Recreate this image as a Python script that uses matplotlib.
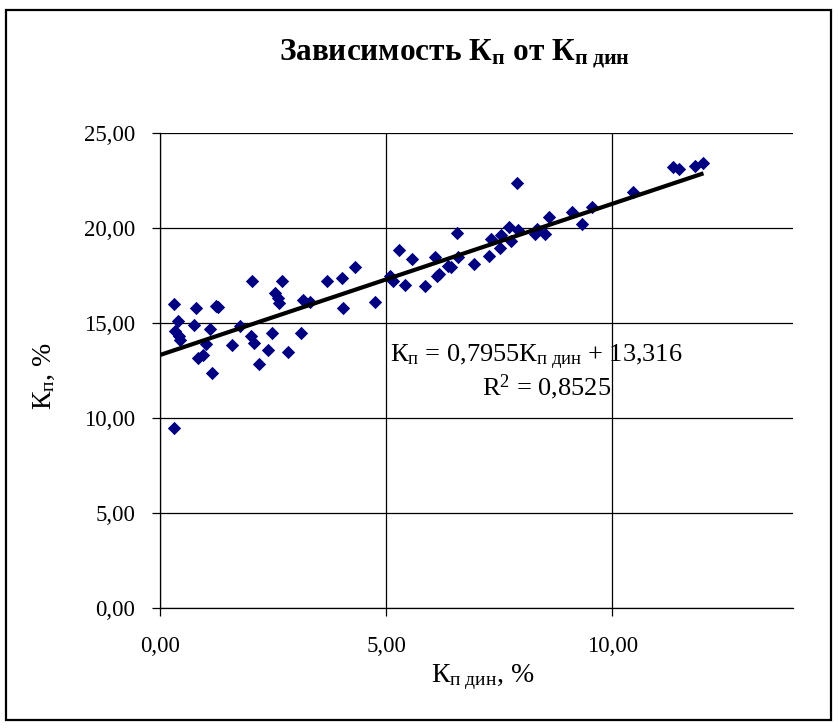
import numpy as np
import matplotlib
matplotlib.use("Agg")
import matplotlib.pyplot as plt
from matplotlib.patches import Rectangle
from matplotlib.ticker import FuncFormatter

plt.rcParams.update({
    "font.family": "Liberation Serif",
    "mathtext.fontset": "custom",
    "mathtext.rm": "Liberation Serif",
    "mathtext.it": "Liberation Serif:italic",
    "mathtext.bf": "Liberation Serif:bold",
})

# Кп дин, % (x) and Кп, % (y)
k_din = [0.31, 0.80, 1.24, 1.28, 0.40, 0.75, 0.33, 0.42, 0.44, 1.10,
         1.02, 0.85, 0.94, 1.15, 1.59, 1.78, 2.02, 2.09, 2.47, 2.18,
         2.38, 2.84, 0.31, 2.03, 2.70, 2.54, 2.61, 2.63, 3.16, 3.32,
         3.12, 3.69, 4.02, 4.32, 4.04, 4.76, 5.08, 5.16, 5.28, 5.42,
         5.57, 5.85, 6.08, 6.12, 6.18, 6.38, 6.43, 6.58, 6.57, 6.95,
         7.27, 7.33, 7.52, 7.54, 7.71, 7.77, 7.89, 7.91, 8.30, 8.33,
         8.52, 8.61, 9.12, 9.33, 9.56, 10.46, 11.35, 11.47, 11.84, 12.02]
k_p = [16.00, 15.80, 15.90, 15.85, 15.10, 14.90, 14.60, 14.30, 14.10, 14.70,
       13.90, 13.15, 13.30, 12.35, 13.85, 14.85, 14.30, 13.95, 14.50, 12.85,
       13.60, 13.50, 9.50, 17.20, 17.20, 16.60, 16.30, 16.05, 16.20, 16.10,
       14.50, 17.20, 17.35, 17.95, 15.80, 16.10, 17.50, 17.20, 18.85, 17.00,
       18.35, 16.95, 18.50, 17.45, 17.60, 18.00, 17.95, 18.45, 19.75, 18.10,
       18.55, 19.40, 18.95, 19.65, 20.05, 19.30, 22.35, 19.90, 19.70, 19.95,
       19.70, 20.60, 20.85, 20.20, 21.10, 21.90, 23.20, 23.10, 23.25, 23.40]

slope, intercept, r2 = 0.7955, 13.316, 0.8525
x_ticks = [0, 5, 10]
y_ticks = [0, 5, 10, 15, 20, 25]

W, H = 838, 728
fig = plt.figure(figsize=(W / 100, H / 100), dpi=100)

def px(x, y):
    return x / W, 1 - y / H

# plot area in pixel terms
left, right, top, bottom = 160, 793, 133, 608
ax = fig.add_axes([left / W, 1 - bottom / H, (right - left) / W, (bottom - top) / H])

ax.scatter(k_din, k_p, marker="D", s=46, color="#000080", linewidths=0, zorder=3)
xs = np.array([0, max(k_din)])
ax.plot(xs, slope * xs + intercept, color="black", lw=3.0, solid_capstyle="butt", zorder=4)

ax.set_xlim(0, 14)
ax.set_ylim(0, 25)
ax.set_xticks(x_ticks)
ax.set_yticks(y_ticks)
comma = FuncFormatter(lambda v, _: f"{v:.2f}".replace(".", ","))
ax.xaxis.set_major_formatter(comma)
ax.yaxis.set_major_formatter(comma)
ax.grid(True, color="black", lw=0.9)
ax.set_axisbelow(True)
for s in ("top", "right"):
    ax.spines[s].set_visible(False)
for s in ("left", "bottom"):
    ax.spines[s].set_linewidth(0.9)
ax.tick_params(direction="out", length=6, width=0.9, labelsize=16.5, pad=12)
ax.tick_params(axis="x", pad=14)

fig.text(*px(454, 54), r"Зависимость К$_\mathbf{п}$ от К$_\mathbf{п\ дин}$",
         fontsize=22.5, fontweight="bold", ha="center", va="center")
fig.text(*px(483, 677), r"К$_\mathrm{п\ дин}$, %", fontsize=20, ha="center", va="center")
fig.text(*px(44, 376), r"К$_\mathrm{п}$, %", fontsize=20, rotation=90, ha="center", va="center")

fig.text(*px(390, 357), r"К$_\mathrm{п}$ = 0,7955К$_\mathrm{п\ дин}$ + 13,316",
         fontsize=19, ha="left", va="center")
fig.text(*px(611, 387), f"R$^2$ = {r2:.4f}".replace(".", ","),
         fontsize=19, ha="right", va="center")

fig.add_artist(Rectangle(px(6, 720), 825 / W, 710 / H, transform=fig.transFigure,
                         fill=False, ec="black", lw=1.6))

fig.savefig("out.png", dpi=100)
